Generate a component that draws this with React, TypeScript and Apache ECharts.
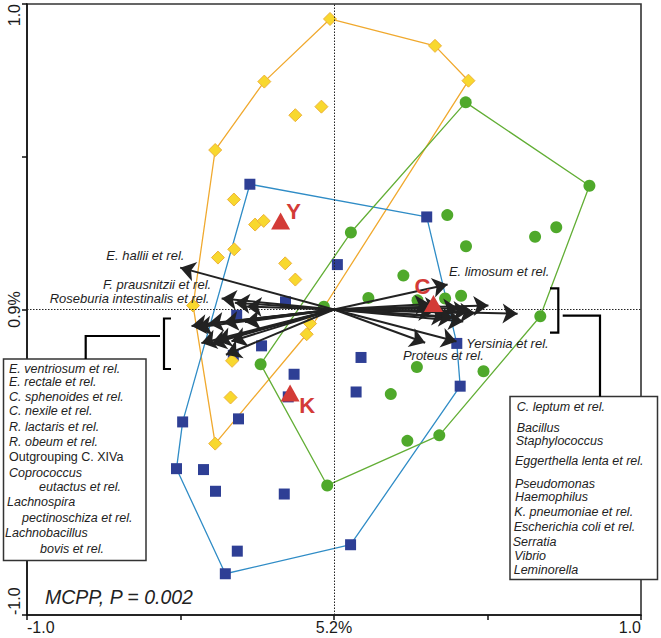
import React, { useEffect, useRef } from "react";
import * as echarts from "echarts";

// ---------- tick labels ----------
const xTickValues = [-1, 0, 1];
const xTickTexts = ["-1.0", "5.2%", "1.0"];
const yTickValues = [-1, 0, 1];
const yTickTexts = ["-1.0", "0.9%", "1.0"];

// ---------- sample scores (x, y) ----------
const yellowPoints: number[][] = [
  [-0.013, 0.951], [0.329, 0.863], [0.438, 0.749], [-0.227, 0.746], [-0.387, 0.522],
  [-0.126, 0.636], [-0.041, 0.664], [-0.326, 0.36], [-0.257, 0.278], [-0.229, 0.29],
  [-0.325, 0.197], [-0.378, 0.17], [-0.159, 0.151], [-0.126, 0.098], [-0.459, 0.013],
  [-0.078, -0.046], [-0.089, -0.081], [-0.332, -0.168], [-0.337, -0.288], [-0.387, -0.439],
];
const yellowHull = [0, 1, 2, 16, 19, 14, 4, 3, 0];

const bluePoints: number[][] = [
  [-0.274, 0.41], [0.302, 0.303], [0.011, 0.147], [-0.158, 0.025], [-0.317, -0.019],
  [-0.236, -0.119], [-0.328, -0.15], [-0.13, -0.212], [-0.149, -0.286], [-0.311, -0.358],
  [-0.493, -0.368], [-0.513, -0.521], [-0.425, -0.524], [-0.386, -0.595], [-0.162, -0.604],
  [-0.315, -0.791], [-0.354, -0.865], [0.4, -0.111], [0.088, -0.157], [0.072, -0.27],
  [0.411, -0.251], [0.054, -0.77],
];
const blueHull = [0, 1, 17, 20, 21, 16, 11, 10, 0];

const greenPoints: number[][] = [
  [0.429, 0.678], [0.832, 0.405], [0.369, 0.309], [0.43, 0.207], [0.655, 0.238],
  [0.724, 0.269], [0.055, 0.252], [0.226, 0.111], [0.112, 0.038], [0.272, 0.03],
  [0.362, 0.036], [0.414, 0.045], [0.672, -0.022], [-0.033, 0.009], [-0.239, -0.179],
  [-0.022, -0.576], [0.27, -0.188], [0.487, -0.202], [0.185, -0.277], [0.239, -0.43],
  [0.343, -0.412],
];
const greenHull = [0, 1, 12, 20, 15, 14, 6, 0];

// group centroids
const centroidNames = ["Y", "C", "K"];
const centroidPoints: number[][] = [[-0.174, 0.29], [0.324, 0.02], [-0.143, -0.273]];

// ---------- species arrows (end points) ----------
const namedArrowNames = [
  "E. hallii et rel.",
  "F. prausnitzii et rel.",
  "Roseburia intestinalis et rel.",
  "E. limosum et rel.",
  "Yersinia et rel.",
  "Proteus et rel.",
];
const namedArrowEnds: number[][] = [
  [-0.501, 0.137], [-0.323, 0.022], [-0.366, 0.036], [0.37, 0.082], [0.399, -0.105], [0.297, -0.109],
];
const extraArrowEnds: number[][] = [[-0.284, 0.01]];
const leftGroupArrowEnds: number[][] = [
  [-0.464, -0.054], [-0.448, -0.059], [-0.409, -0.046], [-0.36, -0.043], [-0.29, -0.041],
  [-0.432, -0.11], [-0.4, -0.112], [-0.383, -0.103], [-0.334, -0.104], [-0.352, -0.148],
];
const rightGroupArrowEnds: number[][] = [
  [0.503, 0.013], [0.598, -0.014], [0.46, -0.012], [0.421, -0.039], [0.367, -0.023],
  [0.405, 0.004], [0.438, -0.006], [0.324, -0.006], [0.346, 0.01], [0.389, -0.027], [0.313, 0.018],
];

// ---------- legend box texts ----------
const leftGroupTaxa = [
  "E. ventriosum et rel.", "E. rectale et rel.", "C. sphenoides et rel.", "C. nexile et rel.",
  "R. lactaris et rel.", "R. obeum et rel.", "Outgrouping C. XIVa", "Coprococcus",
  "eutactus et rel.", "Lachnospira", "pectinoschiza et rel.", "Lachnobacillus", "bovis et rel.",
];
const rightGroupTaxa = [
  "C. leptum et rel.", "Bacillus", "Staphylococcus", "Eggerthella lenta et rel.", "Pseudomonas",
  "Haemophilus", "K. pneumoniae et rel.", "Escherichia coli et rel.", "Serratia", "Vibrio", "Leminorella",
];
const statText = "MCPP, P = 0.002";

// ---------- styling / layout (pixels) ----------
const FONT = '"Liberation Sans", Arial, Helvetica, sans-serif';
const leftTextX = [9, 9, 9, 9, 9, 9, 9, 9, 39, 7, 22, 5, 40];
const leftTextY = [369.3, 382.3, 396.7, 411, 426.7, 441.7, 457.3, 472.7, 487.3, 502, 517.7, 533.3, 549.3];
const rightTextX = [516.7, 516.7, 515.7, 515, 515, 515, 514.3, 513.7, 512.7, 514.3, 513.7];
const rightTextY = [406.7, 428.3, 441, 461, 484.3, 497.3, 512.3, 527.3, 541.7, 555.7, 570];
const namedLabelPos: { dx: number; dy: number; align: string }[] = [
  { dx: 4.7, dy: -11.5, align: "right" },
  { dx: -23.2, dy: -17.6, align: "right" },
  { dx: -11.7, dy: 0.7, align: "right" },
  { dx: 1.8, dy: -12, align: "left" },
  { dx: 10.3, dy: 2.6, align: "left" },
  { dx: -21.8, dy: 13.1, align: "left" },
];
const centroidLabelOffset = [[13, -9], [-11, -17], [17, 13]];

function tickFormatter(values: number[], texts: string[]) {
  return (v: number) => {
    const i = values.findIndex((t) => Math.abs(t - v) < 1e-9);
    return i >= 0 ? texts[i] : "";
  };
}

function hullData(points: number[][], hull: number[]) {
  return hull.map((i) => points[i]);
}

function buildOption(): any {
  const allArrows = [...namedArrowEnds, ...extraArrowEnds, ...leftGroupArrowEnds, ...rightGroupArrowEnds];
  const graphics: any[] = [];
  const boxFont = 12.5;

  // left box
  graphics.push({
    type: "rect", z: 100, shape: { x: 3.5, y: 359, width: 142.5, height: 201.5 },
    style: { fill: "#fff", stroke: "#333", lineWidth: 1.5 },
  });
  leftGroupTaxa.forEach((t, i) => {
    graphics.push({
      type: "text", z: 101, x: leftTextX[i], y: leftTextY[i],
      style: {
        text: t, fill: "#222", fontSize: boxFont, fontFamily: FONT,
        fontStyle: i === 6 ? "normal" : "italic", lineHeight: 12,
        align: "left", verticalAlign: "middle",
      },
    });
  });
  // right box
  graphics.push({
    type: "rect", z: 100, shape: { x: 510, y: 396.5, width: 147.5, height: 183 },
    style: { fill: "#fff", stroke: "#333", lineWidth: 1.5 },
  });
  rightGroupTaxa.forEach((t, i) => {
    graphics.push({
      type: "text", z: 101, x: rightTextX[i], y: rightTextY[i],
      style: {
        text: t, fill: "#222", fontSize: boxFont, fontFamily: FONT, fontStyle: "italic",
        lineHeight: 12, align: "left", verticalAlign: "middle",
      },
    });
  });
  // brackets and connectors
  const bracketStyle = { stroke: "#000", lineWidth: 2.2, fill: "none" };
  graphics.push({ type: "polyline", z: 100, shape: { points: [[171, 318.5], [164, 318.5], [164, 369], [171, 369]] }, style: bracketStyle });
  graphics.push({ type: "polyline", z: 100, shape: { points: [[160, 336], [85.7, 336], [85.7, 359]] }, style: bracketStyle });
  graphics.push({ type: "polyline", z: 100, shape: { points: [[550, 288.3], [558.3, 288.3], [558.3, 332.7], [550, 332.7]] }, style: bracketStyle });
  graphics.push({ type: "polyline", z: 100, shape: { points: [[562.7, 315.7], [600, 315.7], [600, 396.5]] }, style: bracketStyle });
  // statistic text
  graphics.push({
    type: "text", z: 101, x: 45, y: 597,
    style: { text: statText, fill: "#222", fontSize: 19.5, fontFamily: FONT, fontStyle: "italic", align: "left", verticalAlign: "middle" },
  });

  const hullLine = (name: string, pts: number[][], hull: number[], color: string, extra: any = {}) => ({
    type: "line", name, data: hullData(pts, hull), symbol: "none", silent: true, z: 2,
    lineStyle: { color, width: 1.3 }, animation: false, ...extra,
  });

  return {
    animation: false,
    backgroundColor: "#fff",
    grid: {
      left: 27, top: 4, width: 614, height: 611, show: true,
      borderColor: "#333", borderWidth: 1.6, backgroundColor: "transparent",
      containLabel: false, outerBoundsMode: "none",
    },
    xAxis: {
      type: "value", min: -1, max: 1, interval: 0.5,
      axisLine: { show: true, onZero: false, lineStyle: { color: "#111", width: 1.5 } },
      axisTick: { show: true, length: 5, lineStyle: { color: "#111", width: 1.5 } },
      splitLine: { show: false },
      axisLabel: {
        formatter: tickFormatter(xTickValues, xTickTexts), fontSize: 16, color: "#1a1a1a",
        fontFamily: FONT, margin: 4, alignMinLabel: "left", alignMaxLabel: "right",
        showMinLabel: true, showMaxLabel: true,
      },
    },
    yAxis: {
      type: "value", min: -1, max: 1, interval: 0.5,
      axisLine: { show: true, onZero: false, lineStyle: { color: "#111", width: 1.5 } },
      axisTick: { show: true, length: 5, lineStyle: { color: "#111", width: 1.5 } },
      splitLine: { show: false },
      axisLabel: {
        formatter: tickFormatter(yTickValues, yTickTexts), fontSize: 16, color: "#1a1a1a",
        fontFamily: FONT, margin: 5, rotate: 90, alignMinLabel: "left", alignMaxLabel: "right",
        showMinLabel: true, showMaxLabel: true,
      },
    },
    series: [
      hullLine("hullYellow", yellowPoints, yellowHull, "#F0A92E", {
        markLine: {
          silent: true, symbol: ["none", "none"], label: { show: false },
          lineStyle: { color: "#222", width: 1, type: [1.5, 1.5] },
          data: [{ xAxis: 0 }, { yAxis: 0 }],
        },
      }),
      hullLine("hullBlue", bluePoints, blueHull, "#2F8CC6"),
      hullLine("hullGreen", greenPoints, greenHull, "#62AE35"),
      {
        type: "scatter", name: "C", data: greenPoints, symbol: "circle", symbolSize: 12, z: 3,
        itemStyle: { color: "#4FA92B", opacity: 1 },
      },
      {
        type: "scatter", name: "K", data: bluePoints, symbol: "rect", symbolSize: 11, z: 3,
        itemStyle: { color: "#2E3F95", opacity: 1 },
      },
      {
        type: "scatter", name: "Y", data: yellowPoints, symbol: "diamond", symbolSize: 13, z: 3,
        itemStyle: { color: "#F8D82E", borderColor: "#EDB23A", borderWidth: 1, opacity: 1 },
      },
      {
        type: "lines", coordinateSystem: "cartesian2d", z: 5, silent: true,
        symbol: ["none", "arrow"], symbolSize: 15,
        lineStyle: { color: "#222", width: 2, opacity: 1, curveness: 0 },
        data: allArrows.map((e) => ({ coords: [[0, 0], e] })),
      },
      {
        type: "scatter", name: "centroids", z: 6, symbol: "triangle", symbolSize: [19, 17],
        itemStyle: { color: "#D33B37", opacity: 1 },
        data: centroidPoints.map((p, i) => ({
          name: centroidNames[i], value: p,
          label: {
            show: true, formatter: centroidNames[i], position: "inside",
            offset: centroidLabelOffset[i], color: "#D33B37", fontSize: 22, fontWeight: "bold",
            fontFamily: FONT, align: "center", verticalAlign: "middle",
          },
        })),
      },
      {
        type: "scatter", name: "arrowLabels", z: 7, symbol: "circle", symbolSize: 1, silent: true,
        itemStyle: { color: "rgba(0,0,0,0)", opacity: 1 },
        data: namedArrowEnds.map((p, i) => ({
          name: namedArrowNames[i], value: p,
          label: {
            show: true, formatter: namedArrowNames[i], position: [namedLabelPos[i].dx, namedLabelPos[i].dy],
            align: namedLabelPos[i].align, verticalAlign: "middle", color: "#1e1e1e", fontSize: 13,
            fontStyle: "italic", fontFamily: FONT, opacity: 1,
          },
        })),
      },
    ],
    graphic: { elements: graphics },
  };
}

export default function App() {
  const ref = useRef<HTMLDivElement>(null);
  useEffect(() => {
    if (!ref.current) return;
    const chart = echarts.init(ref.current, null, { renderer: "svg" });
    chart.setOption(buildOption());
    return () => chart.dispose();
  }, []);
  return (
    <div
      ref={ref}
      style={{ position: "absolute", left: 0, top: 0, width: 661, height: 638, background: "#fff" }}
    />
  );
}
